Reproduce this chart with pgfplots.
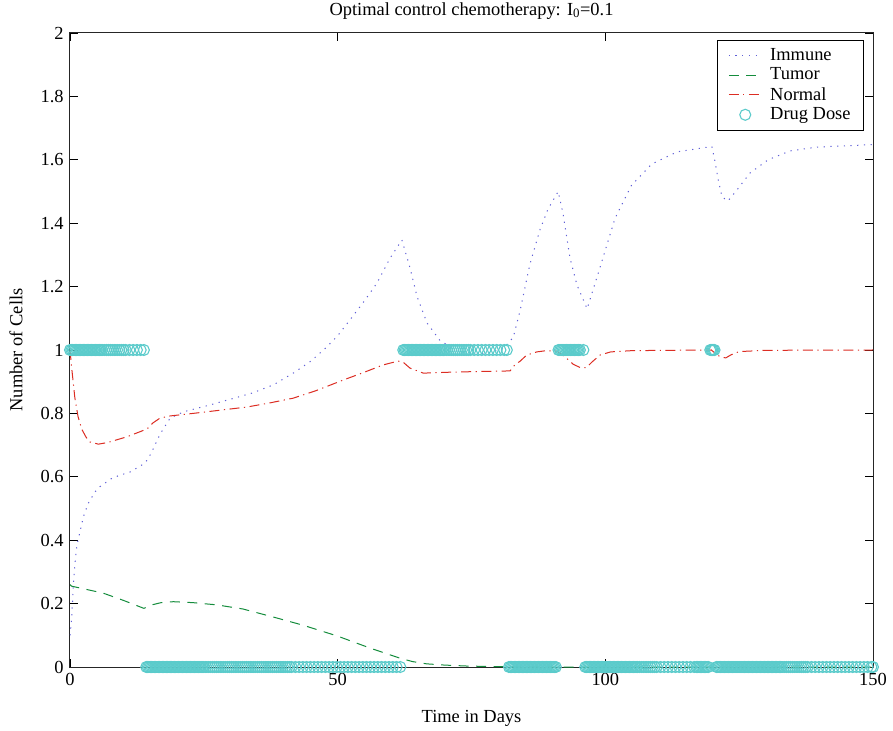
\documentclass[border=0pt]{standalone}
\usepackage{fontspec}
\setmainfont{Liberation Serif}
\usepackage{pgfplots}
\pgfplotsset{compat=1.18}
\definecolor{immune}{RGB}{95,95,215}
\definecolor{tumor}{RGB}{20,140,60}
\definecolor{normal}{RGB}{220,45,35}
\definecolor{dose}{RGB}{91,203,203}
\begin{document}
\fontsize{18.5}{22}\selectfont
\begin{tikzpicture}
\begin{axis}[name=ax, scale only axis, width=803bp, height=634bp,
  xmin=0, xmax=150, ymin=0, ymax=2,
  xtick={0,50,100,150},
  ytick={0,0.2,0.4,0.6,0.8,1,1.2,1.4,1.6,1.8,2},
  /pgf/number format/assume math mode=true,
  tick align=inside, major tick length=8bp,
  tick style={black, line width=0.8bp},
  axis line style={black!85, line width=1bp},
  title={Optimal control chemotherapy: I\textsubscript{0}=0.1},
  title style={at={(axis description cs:0.5,1.0189)}, anchor=base, inner sep=0pt},
  xlabel={Time in Days},
  xlabel style={at={(axis description cs:0.5,-0.0868)}, anchor=base, inner sep=0pt},
  ylabel={Number of Cells},
  ylabel style={at={(axis description cs:-0.0672,0.5)}, anchor=center, inner sep=0pt},
  legend cell align=left,
  legend style={at={(axis description cs:1,1)}, anchor=north east, xshift=-9bp, yshift=-7bp,
    draw=black, line width=0.8bp, inner xsep=11bp, inner ysep=6bp, row sep=0.6bp,
    /tikz/every odd column/.append style={column sep=6bp}},
  legend image code/.code={\draw[mark repeat=2,mark phase=2,#1] plot coordinates {(0bp,0bp) (16.5bp,0bp) (33bp,0bp)};},
]
\addplot[immune, line width=1bp, dash pattern=on 1.2bp off 5.5bp] coordinates {
(0,0.1)(0.3,0.15)(0.6,0.25)(0.9,0.32)(1.25,0.38)(1.87,0.427)(2.5,0.474)(3.4,0.516)(4.7,0.553)(5.6,0.569)(7.8,0.595)(9,0.603)(11.2,0.615)(12.7,0.63)(14,0.643)(14.6,0.658)(15.3,0.679)(16.4,0.72)(17.1,0.742)(18.1,0.769)(18.7,0.785)(21.2,0.805)(26,0.826)(30,0.845)(34,0.864)(38,0.89)(41.7,0.927)(45,0.965)(48,1.01)(50,1.045)(52.3,1.095)(55,1.155)(57.3,1.21)(59.8,1.29)(62,1.347)(63.5,1.26)(64.8,1.17)(66.7,1.085)(69.1,1.03)(72,1.0)(75,0.985)(78,0.99)(81,1.005)(82.8,1.04)(84.1,1.126)(85.9,1.27)(87.8,1.38)(89.3,1.445)(91.2,1.50)(92.1,1.43)(93.4,1.29)(94.7,1.205)(96.6,1.13)(99,1.26)(101.8,1.415)(104.9,1.52)(108.7,1.587)(113.4,1.625)(119.9,1.642)(120.5,1.593)(121.1,1.536)(121.8,1.483)(122.9,1.47)(124.6,1.505)(127,1.558)(130.4,1.60)(134.5,1.628)(139.5,1.64)(150,1.648)
};
\addlegendentry{Immune}
\addplot[tumor, line width=1bp, dash pattern=on 10bp off 7.5bp] coordinates {
(0,0.26)(0.3,0.255)(3,0.245)(6.2,0.233)(10,0.21)(13.8,0.185)(15.3,0.196)(17,0.203)(19.3,0.206)(23,0.203)(27.4,0.196)(32.3,0.183)(37.9,0.158)(43.5,0.132)(49.9,0.098)(56,0.06)(61.6,0.028)(64,0.017)(66.6,0.01)(70,0.006)(74.2,0.003)(80,0.001)(90,0)(150,0)
};
\addlegendentry{Tumor}
\addplot[normal, line width=1bp, dash pattern=on 10bp off 4.5bp on 1.2bp off 4.5bp] coordinates {
(0,1.0)(0.3,0.946)(0.9,0.85)(1.5,0.79)(2.2,0.75)(3,0.725)(3.7,0.71)(5.3,0.703)(7,0.708)(10.6,0.726)(13.5,0.745)(14.6,0.754)(15.5,0.77)(16.8,0.785)(18.7,0.792)(23,0.80)(28,0.81)(33,0.82)(37,0.832)(41.7,0.848)(46,0.872)(51,0.905)(55,0.93)(58.5,0.953)(61.3,0.965)(62.2,0.962)(63.5,0.943)(66,0.927)(71,0.93)(76,0.932)(82.2,0.934)(83.1,0.953)(84.1,0.965)(85.3,0.984)(87.2,0.994)(89,0.998)(91,0.996)(92.5,0.978)(94,0.955)(95.5,0.943)(96.5,0.945)(97.5,0.962)(99,0.984)(101,0.994)(105,0.998)(119.8,1.0)(120.5,0.99)(121.5,0.978)(122.5,0.975)(123.5,0.985)(125,0.995)(130,0.999)(150,1.0)
};
\addlegendentry{Normal}
\addplot[dose, only marks, mark=o, mark size=5.5bp, mark options={line width=1.1bp}] coordinates {
(0,1)(0.25,1)(0.5,1)(0.75,1)(1,1)(1.25,1)(1.5,1)(1.75,1)(2,1)(2.25,1)(2.5,1)(2.75,1)(3,1)(3.25,1)(3.5,1)(3.75,1)(4,1)(4.25,1)(4.5,1)(4.75,1)(5,1)(5.25,1)(5.5,1)(5.75,1)(6,1)
(6.4,1)(6.8,1)(7.2,1)(7.6,1)(8,1)(8.4,1)(8.8,1)(9.2,1)(9.6,1)(10,1)(10.4,1)
(11.1,1)(11.8,1)(12.5,1)(13.2,1)(13.8,1)
(14.25,0)(14.5,0)(14.75,0)(15,0)(15.25,0)(15.5,0)(15.75,0)(16,0)(16.25,0)(16.5,0)(16.75,0)(17,0)(17.25,0)(17.5,0)(17.75,0)(18,0)(18.25,0)(18.5,0)(18.75,0)(19,0)(19.25,0)(19.5,0)(19.75,0)(20,0)(20.25,0)(20.5,0)(20.75,0)(21,0)(21.25,0)(21.5,0)(21.75,0)(22,0)(22.25,0)(22.5,0)(22.75,0)(23,0)(23.25,0)(23.5,0)(23.75,0)(24,0)(24.25,0)(24.5,0)(24.75,0)(25,0)
(25.4,0)(25.8,0)(26.2,0)(26.6,0)(27,0)(27.4,0)(27.8,0)(28.2,0)(28.6,0)(29,0)(29.4,0)(29.8,0)(30.2,0)(30.6,0)(31,0)(31.4,0)(31.8,0)(32.2,0)(32.6,0)(33,0)(33.4,0)(33.8,0)(34.2,0)(34.6,0)(35,0)(35.4,0)(35.8,0)(36.2,0)(36.6,0)(37,0)(37.4,0)(37.8,0)(38.2,0)(38.6,0)(39,0)(39.4,0)(39.8,0)(40.2,0)(40.6,0)(41,0)(41.4,0)
(42.1,0)(42.8,0)(43.5,0)(44.2,0)(44.9,0)(45.6,0)(46.3,0)(47,0)(47.7,0)(48.4,0)(49.1,0)(49.8,0)(50.5,0)(51.2,0)(51.9,0)(52.6,0)(53.3,0)(54,0)(54.7,0)(55.4,0)(56.1,0)(56.8,0)(57.5,0)(58.2,0)(58.9,0)(59.6,0)(60.3,0)(61,0)(61.7,0)
(62.25,1)(62.5,1)(62.75,1)(63,1)(63.25,1)(63.5,1)(63.75,1)(64,1)(64.25,1)(64.5,1)(64.75,1)(65,1)(65.25,1)(65.5,1)(65.75,1)(66,1)(66.25,1)(66.5,1)(66.75,1)(67,1)(67.25,1)(67.5,1)(67.75,1)(68,1)(68.25,1)(68.5,1)(68.75,1)(69,1)(69.25,1)(69.5,1)(69.75,1)(70,1)
(70.4,1)(70.8,1)(71.2,1)(71.6,1)(72,1)(72.4,1)(72.8,1)(73.2,1)(73.6,1)(74,1)(74.4,1)(74.8,1)
(75.5,1)(76.2,1)(76.9,1)(77.6,1)(78.3,1)(79,1)(79.7,1)(80.4,1)(81.1,1)(81.6,1)
(82,0)(82.25,0)(82.5,0)(82.75,0)(83,0)(83.25,0)(83.5,0)(83.75,0)(84,0)(84.25,0)(84.5,0)(84.75,0)(85,0)(85.25,0)(85.5,0)(85.75,0)(86,0)(86.25,0)(86.5,0)(86.75,0)(87,0)(87.25,0)(87.5,0)(87.75,0)(88,0)(88.25,0)(88.5,0)(88.75,0)(89,0)(89.25,0)(89.5,0)(89.75,0)(90,0)(90.25,0)(90.5,0)(90.75,0)
(91.25,1)(91.5,1)(91.75,1)(92,1)(92.25,1)(92.5,1)(92.75,1)(93,1)(93.25,1)(93.5,1)(93.75,1)(94,1)(94.25,1)(94.5,1)(94.75,1)(95,1)(95.25,1)(95.9,1)
(96.25,0)(96.5,0)(96.75,0)(97,0)(97.25,0)(97.5,0)(97.75,0)(98,0)(98.25,0)(98.5,0)(98.75,0)(99,0)(99.25,0)(99.5,0)(99.75,0)(100,0)(100.25,0)(100.5,0)(100.75,0)(101,0)(101.25,0)(101.5,0)(101.75,0)(102,0)(102.25,0)(102.5,0)(102.75,0)(103,0)(103.25,0)(103.5,0)(103.75,0)(104,0)(104.25,0)(104.5,0)(104.75,0)(105,0)(105.25,0)(105.5,0)(105.75,0)(106,0)
(106.4,0)(106.8,0)(107.2,0)(107.6,0)(108,0)(108.4,0)(108.8,0)(109.2,0)(109.6,0)
(110.3,0)(111,0)(111.7,0)(112.4,0)(113.1,0)(113.8,0)(114.5,0)(115.2,0)(115.9,0)(116.6,0)
(117,0)(117.25,0)(117.5,0)(117.75,0)(118,0)(118.25,0)(118.5,0)(118.75,0)(119,0)(119.25,0)
(119.6,1)(119.8,1)(120,1)(120.2,1)(120.4,1)
(120.75,0)(121,0)(121.25,0)(121.5,0)(121.75,0)(122,0)(122.25,0)(122.5,0)(122.75,0)(123,0)(123.25,0)(123.5,0)(123.75,0)(124,0)(124.25,0)(124.5,0)(124.75,0)(125,0)(125.25,0)(125.5,0)(125.75,0)(126,0)(126.25,0)(126.5,0)(126.75,0)(127,0)(127.25,0)(127.5,0)(127.75,0)(128,0)(128.25,0)(128.5,0)(128.75,0)(129,0)(129.25,0)(129.5,0)(129.75,0)(130,0)(130.25,0)(130.5,0)(130.75,0)(131,0)(131.25,0)(131.5,0)(131.75,0)(132,0)(132.25,0)(132.5,0)(132.75,0)(133,0)
(133.4,0)(133.8,0)(134.2,0)(134.6,0)(135,0)(135.4,0)(135.8,0)(136.2,0)(136.6,0)(137,0)(137.4,0)(137.8,0)
(138.5,0)(139.2,0)(139.9,0)(140.6,0)(141.3,0)(142,0)(142.7,0)(143.4,0)(144.1,0)(144.8,0)(145.5,0)(146.2,0)(146.9,0)(147.6,0)(148.3,0)(149,0)(149.7,0)(150,0)
};
\addlegendentry{Drug Dose}
\end{axis}
\pgfresetboundingbox
\useasboundingbox ([shift={(-70bp,-64bp)}]ax.south west) rectangle ([shift={(20bp,33bp)}]ax.north east);
\end{tikzpicture}
\end{document}
